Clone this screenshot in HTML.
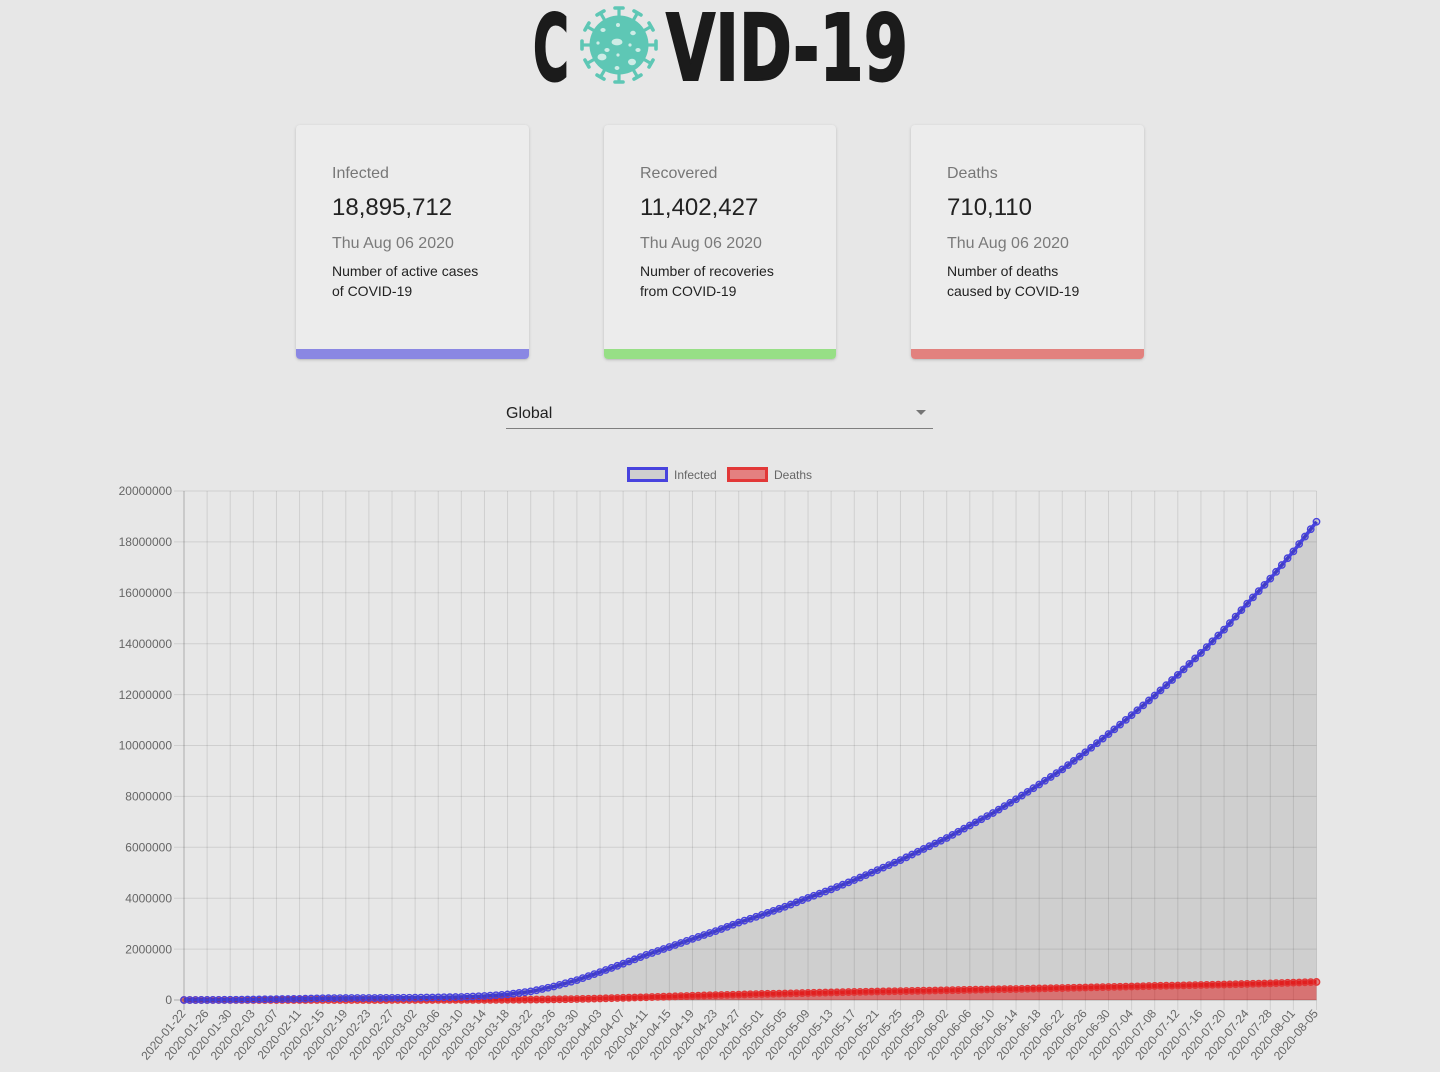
<!DOCTYPE html>
<html><head><meta charset="utf-8">
<style>
html,body{margin:0;padding:0;}
body{width:1440px;height:1072px;background:#e7e7e7;position:relative;overflow:hidden;font-family:"Liberation Sans",Arial,sans-serif;}
#main{position:absolute;left:0;top:0;}
.card{position:absolute;top:125px;width:233px;height:234px;background:#ececec;border-radius:4px;box-shadow:0 1px 3px rgba(0,0,0,0.16),0 1px 1px rgba(0,0,0,0.06);overflow:hidden;}
.card .bar{position:absolute;left:0;right:0;bottom:0;height:10px;}
.card .t{position:absolute;left:36px;white-space:nowrap;}
.lbl{top:40.5px;font-size:16px;line-height:16px;color:#777;}
.num{top:71.3px;font-size:24px;line-height:24px;color:#222;}
.date{top:111px;font-size:16px;line-height:16px;color:#7a7a7a;}
.desc{top:136px;font-size:14px;line-height:20px;color:#222;}
#sel{position:absolute;left:506px;top:405.5px;font-size:16px;line-height:16px;color:#222;}
#uline{position:absolute;left:506px;top:428px;width:427px;height:1px;background:rgba(0,0,0,0.45);}
#arrow{position:absolute;left:916px;top:410px;width:0;height:0;border-left:5px solid transparent;border-right:5px solid transparent;border-top:5px solid #757575;}
</style></head>
<body>
<svg id="main" width="1440" height="1072" viewBox="0 0 1440 1072" xmlns="http://www.w3.org/2000/svg">
  <g id="logo">
    <text x="533" y="80" font-family="DejaVu Sans, sans-serif" font-weight="bold" font-size="92" fill="#1b1b1b" stroke="#1b1b1b" stroke-width="2" textLength="36" lengthAdjust="spacingAndGlyphs">C</text>
    <text x="666" y="80" font-family="DejaVu Sans, sans-serif" font-weight="bold" font-size="92" fill="#1b1b1b" stroke="#1b1b1b" stroke-width="2" textLength="242" lengthAdjust="spacingAndGlyphs">VID-19</text>
    <g id="virus" transform="translate(619,45)"></g>
  </g>
  <g id="chart"></g>
</svg>

<div class="card" style="left:296px;">
  <div class="t lbl">Infected</div>
  <div class="t num">18,895,712</div>
  <div class="t date">Thu Aug 06 2020</div>
  <div class="t desc">Number of active cases<br>of COVID-19</div>
  <div class="bar" style="background:#8a87e3;"></div>
</div>
<div class="card" style="left:604px;width:232px;">
  <div class="t lbl">Recovered</div>
  <div class="t num">11,402,427</div>
  <div class="t date">Thu Aug 06 2020</div>
  <div class="t desc">Number of recoveries<br>from COVID-19</div>
  <div class="bar" style="background:#97df86;"></div>
</div>
<div class="card" style="left:911px;">
  <div class="t lbl">Deaths</div>
  <div class="t num">710,110</div>
  <div class="t date">Thu Aug 06 2020</div>
  <div class="t desc">Number of deaths<br>caused by COVID-19</div>
  <div class="bar" style="background:#e2817e;"></div>
</div>

<div id="sel">Global</div>
<div id="uline"></div>
<div id="arrow"></div>

<script>
(function(){
var NS='http://www.w3.org/2000/svg';
function el(tag,attrs,parent,text){var e=document.createElementNS(NS,tag);for(var k in attrs)e.setAttribute(k,attrs[k]);if(text!==undefined)e.textContent=text;parent.appendChild(e);return e;}

/* virus */
var v=document.getElementById('virus');
var teal='#5ec7b5';
for(var a=0;a<12;a++){
  var ang=(a*30-90)*Math.PI/180;
  var c=Math.cos(ang),s=Math.sin(ang);
  el('line',{x1:c*26,y1:s*26,x2:c*36,y2:s*36,stroke:teal,'stroke-width':3.2},v);
  var px=-s,py=c;
  el('line',{x1:c*37+px*4,y1:s*37+py*4,x2:c*37-px*4,y2:s*37-py*4,stroke:teal,'stroke-width':3.6,'stroke-linecap':'round'},v);
}
el('circle',{cx:0,cy:0,r:29.5,fill:teal},v);
var spots=[[-1,-20,2,2],[-16,-15,2.6,2],[14,-12,2.8,2.2],[-2,-3,5.5,3.4],[-21,-2,1.6,1.6],[-12,5,2.6,2],[11,0,1.6,1.6],[19,5,2.6,2],[-17,12,4.5,3.4],[-1,10,1.6,1.6],[13,17,4,3.2],[-2,23,2.4,2]];
spots.forEach(function(p){el('ellipse',{cx:p[0],cy:p[1],rx:p[2],ry:p[3],fill:'#cdece6'},v);});

/* chart */
var g=document.getElementById('chart');
var X0=184,X1=1316.5,Y0=1000,Y1=491;
var dx=(X1-X0)/196;
function yv(val){return Y0-val*(Y0-Y1)/20000000;}
var inf=[555,2118,8234,19887,34386,45170,69032,75641,78985,82746,90306,101800,119000,156000,218000,337000,530000,782000,1095000,1426000,1771000,2081000,2401000,2707000,3042000,3343000,3662000,4014000,4347000,4713000,5103000,5496000,5935000,6366000,6858000,7346000,7887000,8467000,9061000,9733000,10449000,11192000,11963000,12776000,13637000,14551000,15575000,16556000,17628000,18790000];
var dea=[17,56,171,426,719,1115,1666,2122,2469,2810,3085,3460,4262,5819,8778,14652,24000,39000,59000,85000,109000,137000,165000,192000,212000,238000,256000,277000,297000,316000,334000,347000,366000,381000,400000,418000,433000,454000,470000,491000,512000,530000,553000,570000,590000,607000,632000,654000,682000,709000];
function daily(arr){var out=[];for(var d=0;d<197;d++){var i=Math.floor(d/4),f=(d%4)/4;var a=arr[i],b=arr[Math.min(i+1,49)];out.push(a+(b-a)*f);}return out;}
var I=daily(inf),D=daily(dea);

/* gridlines */
var grid='rgba(0,0,0,0.1)';
for(var k=0;k<=10;k++){
  var y=yv(k*2000000);
  el('line',{x1:174,y1:y,x2:X1,y2:y,stroke:(k===0?'rgba(0,0,0,0.25)':grid),'stroke-width':1},g);
  el('text',{x:172,y:y,dy:'0.35em','text-anchor':'end','font-family':'Liberation Sans, Arial, sans-serif','font-size':12,fill:'#666'},g,String(k*2000000));
}
var start=Date.UTC(2020,0,22);
function pad(n){return n<10?'0'+n:''+n;}
for(var j=0;j<50;j++){
  var x=X0+j*4*dx;
  el('line',{x1:x,y1:Y1,x2:x,y2:1010,stroke:(j===0?'rgba(0,0,0,0.25)':grid),'stroke-width':1},g);
  var dt=new Date(start+j*4*86400000);
  var lab=dt.getUTCFullYear()+'-'+pad(dt.getUTCMonth()+1)+'-'+pad(dt.getUTCDate());
  el('text',{transform:'translate('+(x-1)+',1011) rotate(-50)',dy:'0.35em','text-anchor':'end','font-family':'Liberation Sans, Arial, sans-serif','font-size':12,fill:'#666'},g,lab);
}

function pts(arr){var s=[];for(var d=0;d<197;d++){s.push((X0+d*dx).toFixed(2)+','+yv(arr[d]).toFixed(2));}return s;}
var pI=pts(I),pD=pts(D);
var blue='#4843de',red='#e23838';
/* fills */
el('polygon',{points:pI.join(' ')+' '+X1+','+Y0+' '+X0+','+Y0,fill:'rgba(0,0,0,0.1)'},g);
el('polygon',{points:pD.join(' ')+' '+X1+','+Y0+' '+X0+','+Y0,fill:'rgba(224,2,2,0.45)'},g);
/* deaths line + points */
el('polyline',{points:pD.join(' '),fill:'none',stroke:red,'stroke-width':4,'stroke-linejoin':'round'},g);
for(var d=0;d<197;d++){el('circle',{cx:X0+d*dx,cy:yv(D[d]),r:3.2,fill:'rgba(224,2,2,0.45)',stroke:red,'stroke-width':1.4},g);}
/* infected line + points */
el('polyline',{points:pI.join(' '),fill:'none',stroke:blue,'stroke-width':3.6,'stroke-linejoin':'round'},g);
for(var d2=0;d2<197;d2++){el('circle',{cx:X0+d2*dx,cy:yv(I[d2]),r:3.2,fill:'rgba(0,0,0,0.1)',stroke:blue,'stroke-width':1.4},g);}

/* legend */
el('rect',{x:628.5,y:468.5,width:38,height:12,fill:'rgba(0,0,0,0.1)',stroke:blue,'stroke-width':3},g);
el('text',{x:674,y:479,'font-family':'Liberation Sans, Arial, sans-serif','font-size':12,fill:'#666'},g,'Infected');
el('rect',{x:728.5,y:468.5,width:38,height:12,fill:'rgba(224,2,2,0.45)',stroke:red,'stroke-width':3},g);
el('text',{x:774,y:479,'font-family':'Liberation Sans, Arial, sans-serif','font-size':12,fill:'#666'},g,'Deaths');
})();
</script>
</body></html>
